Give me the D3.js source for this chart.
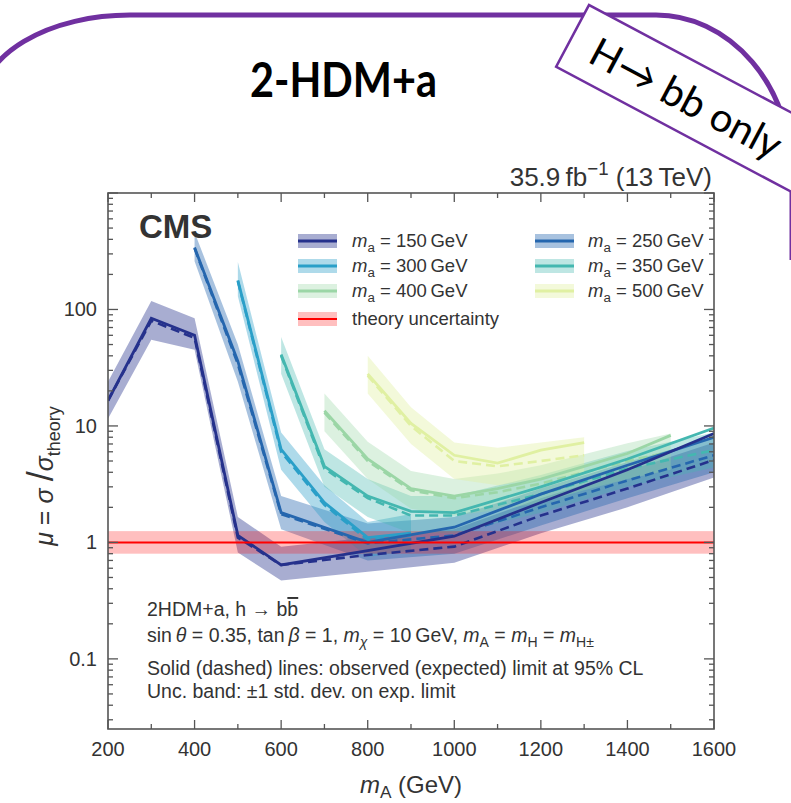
<!DOCTYPE html>
<html>
<head>
<meta charset="utf-8">
<script src="https://cdn.jsdelivr.net/npm/d3@7"></script>
<style>
  body { margin: 0; background: #fff; }
  svg { display: block; }
</style>
</head>
<body>
<script>
// ---- Limits on mu = sigma / sigma_theory, one set of arrays per m_a value ----
// m_a = 150 GeV
const mass150 = [200, 300, 400, 500, 600, 800, 1000, 1200, 1400, 1600];
const obs150  = [16.5, 84, 60, 1.15, 0.64, 0.85, 1.13, 2.2, 4.2, 8.6];
const exp150  = [16.5, 80, 57, 1.1, 0.64, 0.78, 0.92, 1.7, 2.9, 5.1];
const lo150   = [11.5, 55, 45, 0.82, 0.47, 0.56, 0.67, 1.2, 2.0, 3.6];
const hi150   = [24, 118, 84, 1.65, 0.92, 1.1, 1.3, 2.4, 4.1, 7.2];
// m_a = 250 GeV
const mass250 = [400, 500, 600, 800, 1000, 1200, 1400, 1600];
const obs250  = [340, 36, 1.8, 1.0, 1.35, 2.6, 4.6, 8.0];
const exp250  = [335, 34, 1.75, 0.98, 1.15, 2.0, 3.4, 5.6];
const lo250   = [260, 24, 1.3, 0.7, 0.8, 1.4, 2.4, 4.0];
const hi250   = [460, 50, 2.5, 1.45, 1.65, 2.9, 4.9, 8.0];
// m_a = 300 GeV
const mass300 = [500, 600, 700, 800, 900];
const obs300  = [178, 6.3, 2.2, 1.1, 1.2];
const exp300  = [175, 6.0, 2.1, 1.05, 1.15];
const lo300   = [130, 4.2, 1.5, 0.75, 0.85];
const hi300   = [255, 8.8, 3.1, 1.5, 1.75];
// m_a = 350 GeV
const mass350 = [600, 700, 800, 900, 1000, 1200, 1400, 1600];
const obs350  = [41, 4.5, 2.5, 1.85, 1.8, 3.0, 5.2, 9.6];
const exp350  = [40, 4.3, 2.4, 1.7, 1.7, 2.6, 4.3, 6.2];
const lo350   = [28, 3.0, 1.65, 1.2, 1.2, 1.8, 3.0, 4.4];
const hi350   = [58, 6.3, 3.5, 2.5, 2.5, 3.8, 6.1, 8.8];
// m_a = 400 GeV
const mass400 = [700, 800, 900, 1000, 1100, 1200, 1300, 1400, 1500];
const obs400  = [13.5, 5.2, 2.9, 2.5, 2.9, 3.5, 4.5, 5.8, 8.3];
const exp400  = [13, 5.0, 2.8, 2.4, 2.7, 3.2, 4.0, 5.0, 6.0];
const lo400   = [9, 3.5, 1.95, 1.7, 1.9, 2.2, 2.8, 3.5, 4.2];
const hi400   = [19, 7.3, 4.1, 3.5, 3.9, 4.6, 5.7, 7.1, 8.6];
// m_a = 500 GeV
const mass500 = [800, 900, 1000, 1100, 1200, 1300];
const obs500  = [28, 10.5, 5.6, 4.8, 6.2, 7.2];
const exp500  = [27, 10.0, 5.0, 4.5, 5.0, 5.6];
const lo500   = [19, 7, 3.5, 3.1, 3.5, 3.9];
const hi500   = [40, 14.5, 7.2, 6.5, 7.2, 8.0];
// theory reference and its uncertainty
const theoryMu = 1;
const theoryLo = 0.8;
const theoryHi = 1.25;

const xTickValues = [200, 400, 600, 800, 1000, 1200, 1400, 1600];
const xTickLabels = ["200", "400", "600", "800", "1000", "1200", "1400", "1600"];
const yTickValues = [0.1, 1, 10, 100];
const yTickLabels = ["0.1", "1", "10", "100"];

const series = [
  { ma: "150", m: mass150, obs: obs150, exp: exp150, lo: lo150, hi: hi150, color: "#25318c", bandOp: 0.4 },
  { ma: "250", m: mass250, obs: obs250, exp: exp250, lo: lo250, hi: hi250, color: "#2566ae", bandOp: 0.4 },
  { ma: "300", m: mass300, obs: obs300, exp: exp300, lo: lo300, hi: hi300, color: "#2a9fc8", bandOp: 0.38 },
  { ma: "350", m: mass350, obs: obs350, exp: exp350, lo: lo350, hi: hi350, color: "#44b7b0", bandOp: 0.35 },
  { ma: "400", m: mass400, obs: obs400, exp: exp400, lo: lo400, hi: hi400, color: "#9bd6a6", bandOp: 0.35 },
  { ma: "500", m: mass500, obs: obs500, exp: exp500, lo: lo500, hi: hi500, color: "#e0f0a2", bandOp: 0.4 }
];

const W = 791, H = 803;
const plot = { left: 108, right: 714, top: 193, bottom: 729 };
const textCol = "#333";
const plotFont = "'Liberation Sans', Arial, sans-serif";

const svg = d3.select("body").append("svg").attr("width", W).attr("height", H);

const x = d3.scaleLinear().domain([200, 1600]).range([plot.left, plot.right]);
const y = d3.scaleLog().domain([0.025, 1000]).range([plot.bottom, plot.top]);

// rich text helper: parts = [{t, it, sub, sup, size, over}]
function rich(parent, px, py, parts, opt) {
  opt = opt || {};
  const fs = opt.size || 17;
  const subShift = opt.subShift !== undefined ? opt.subShift : 0.28;
  const t = parent.append("text")
    .attr("x", px).attr("y", py)
    .attr("font-family", opt.family || plotFont)
    .attr("font-size", fs)
    .attr("fill", opt.fill || textCol)
    .attr("text-anchor", opt.anchor || "start");
  if (opt.transform) t.attr("transform", opt.transform);
  let cur = 0;
  parts.forEach(p => {
    const target = p.sub ? fs * subShift : (p.sup ? -fs * 0.42 : 0);
    const s = t.append("tspan").text(p.t).attr("dy", target - cur);
    cur = target;
    if (p.it) s.attr("font-style", "italic");
    if (p.sub || p.sup) s.attr("font-size", fs * 0.72);
    if (p.size) s.attr("font-size", p.size);
    if (p.over) s.attr("text-decoration", "overline");
  });
  return t;
}

// ---- header decoration ----
svg.append("path")
  .attr("d", "M -20 105 A 150 90 0 0 1 130 15 L 656 15 A 136 160 0 0 1 792 175 L 792 260")
  .attr("fill", "none").attr("stroke", "#7030a0").attr("stroke-width", 5);

svg.append("text")
  .attr("x", 250).attr("y", 97)
  .attr("font-family", "Lato, 'Open Sans', sans-serif")
  .attr("font-weight", "bold")
  .attr("font-size", 47)
  .attr("textLength", 187)
  .attr("lengthAdjust", "spacingAndGlyphs")
  .attr("fill", "#000")
  .text("2-HDM+a");

const tag = svg.append("g").attr("transform", "translate(589,5) rotate(28)");
tag.append("rect").attr("x", 0).attr("y", 0).attr("width", 300).attr("height", 70)
  .attr("fill", "#fff").attr("stroke", "#7030a0").attr("stroke-width", 2.5);
tag.append("text").attr("x", 24).attr("y", 51)
  .attr("font-family", "Lato, 'Open Sans', sans-serif")
  .attr("font-size", 40).attr("fill", "#000")
  .text("H\u2192 bb only");

// ---- plot area ----
svg.append("clipPath").attr("id", "plotClip")
  .append("rect").attr("x", plot.left).attr("y", plot.top)
  .attr("width", plot.right - plot.left).attr("height", plot.bottom - plot.top);

const gPlot = svg.append("g").attr("clip-path", "url(#plotClip)");

const band = d3.area()
  .x(d => x(d.m)).y0(d => y(d.lo)).y1(d => y(d.hi));
const line = key => d3.line().x(d => x(d.m)).y(d => y(d[key]));

function rows(s) {
  return s.m.map((m, i) => ({ m, obs: s.obs[i], exp: s.exp[i], lo: s.lo[i], hi: s.hi[i] }));
}

// uncertainty bands
series.forEach(s => {
  gPlot.append("path").datum(rows(s))
    .attr("d", band).attr("fill", s.color).attr("fill-opacity", s.bandOp);
});

// theory band
gPlot.append("rect")
  .attr("x", plot.left).attr("width", plot.right - plot.left)
  .attr("y", y(theoryHi)).attr("height", y(theoryLo) - y(theoryHi))
  .attr("fill", "#ff0000").attr("fill-opacity", 0.25);

// expected (dashed) and observed (solid) limits
series.slice().reverse().forEach(s => {
  gPlot.append("path").datum(rows(s))
    .attr("d", line("exp")).attr("fill", "none")
    .attr("stroke", s.color).attr("stroke-width", 2.6).attr("stroke-dasharray", "9,5");
  gPlot.append("path").datum(rows(s))
    .attr("d", line("obs")).attr("fill", "none")
    .attr("stroke", s.color).attr("stroke-width", 2.8);
});

gPlot.append("line")
  .attr("x1", plot.left).attr("x2", plot.right)
  .attr("y1", y(theoryMu)).attr("y2", y(theoryMu))
  .attr("stroke", "#ff0000").attr("stroke-width", 2);

// ---- frame and ticks ----
const frameCol = "#555";
const gAxes = svg.append("g").attr("stroke", frameCol);
gAxes.append("rect")
  .attr("x", plot.left).attr("y", plot.top)
  .attr("width", plot.right - plot.left).attr("height", plot.bottom - plot.top)
  .attr("fill", "none").attr("stroke-width", 1.6);

const xMinor = d3.range(300, 1600, 200);
xTickValues.concat(xMinor).forEach(v => {
  const len = xTickValues.includes(v) ? 9 : 5;
  gAxes.append("line").attr("x1", x(v)).attr("x2", x(v))
    .attr("y1", plot.bottom).attr("y2", plot.bottom - len).attr("stroke-width", 1.3);
  gAxes.append("line").attr("x1", x(v)).attr("x2", x(v))
    .attr("y1", plot.top).attr("y2", plot.top + len).attr("stroke-width", 1.3);
});

const yAll = y.ticks(40).filter(v => v >= 0.025 && v <= 1000);
yAll.forEach(v => {
  const major = yTickValues.includes(v) || v === 1000;
  const len = major ? 10 : 5;
  gAxes.append("line").attr("x1", plot.left).attr("x2", plot.left + len)
    .attr("y1", y(v)).attr("y2", y(v)).attr("stroke-width", 1.3);
  gAxes.append("line").attr("x1", plot.right).attr("x2", plot.right - len)
    .attr("y1", y(v)).attr("y2", y(v)).attr("stroke-width", 1.3);
});

// tick labels
xTickValues.forEach((v, i) => {
  svg.append("text").attr("x", x(v)).attr("y", 756)
    .attr("text-anchor", "middle").attr("font-family", plotFont)
    .attr("font-size", 20).attr("fill", textCol).text(xTickLabels[i]);
});
yTickValues.forEach((v, i) => {
  svg.append("text").attr("x", 97).attr("y", y(v) + 7)
    .attr("text-anchor", "end").attr("font-family", plotFont)
    .attr("font-size", 20).attr("fill", textCol).text(yTickLabels[i]);
});

// axis titles
rich(svg, 411, 793, [{ t: "m", it: true }, { t: "A", sub: true }, { t: " (GeV)" }],
  { size: 24, anchor: "middle", subShift: 0.2 });
rich(svg, 0, 0, [
  { t: "\u03bc", it: true }, { t: " = " }, { t: "\u03c3", it: true },
  { t: "\u2009/", size: 36 }, { t: "\u03c3", it: true }, { t: "theory", sub: true }
], { size: 25, anchor: "middle", transform: "translate(53,476) rotate(-90)" });

// luminosity label and experiment tag
rich(svg, 712, 186, [{ t: "35.9\u2009fb" }, { t: "\u22121", sup: true }, { t: " (13\u2009TeV)" }],
  { size: 26, anchor: "end" });
svg.append("text").attr("x", 139).attr("y", 238)
  .attr("font-family", plotFont).attr("font-weight", "bold")
  .attr("font-size", 33).attr("fill", textCol).text("CMS");

// ---- legend ----
const legendItems = [
  { s: series[0], col: 0, row: 0 },
  { s: series[2], col: 0, row: 1 },
  { s: series[4], col: 0, row: 2 },
  { s: series[1], col: 1, row: 0 },
  { s: series[3], col: 1, row: 1 },
  { s: series[5], col: 1, row: 2 }
];
const legX = [298, 535], legTextX = [352, 588], legY = [241, 266, 291, 319];
legendItems.forEach(it => {
  const cy = legY[it.row], x0 = legX[it.col];
  svg.append("rect").attr("x", x0).attr("y", cy - 7).attr("width", 39).attr("height", 14)
    .attr("fill", it.s.color).attr("fill-opacity", it.s.bandOp);
  svg.append("line").attr("x1", x0).attr("x2", x0 + 39).attr("y1", cy).attr("y2", cy)
    .attr("stroke", it.s.color).attr("stroke-width", 3);
  rich(svg, legTextX[it.col], cy + 6,
    [{ t: "m", it: true }, { t: "a", sub: true }, { t: " = " + it.s.ma + "\u2009GeV" }], { size: 18.5 });
});
// theory entry
svg.append("rect").attr("x", legX[0]).attr("y", legY[3] - 7).attr("width", 39).attr("height", 14)
  .attr("fill", "#ff0000").attr("fill-opacity", 0.25);
svg.append("line").attr("x1", legX[0]).attr("x2", legX[0] + 39).attr("y1", legY[3]).attr("y2", legY[3])
  .attr("stroke", "#ff0000").attr("stroke-width", 2);
rich(svg, legTextX[0], legY[3] + 6, [{ t: "theory uncertainty" }], { size: 18.5 });

// ---- model description ----
const noteSize = 19.5;
rich(svg, 147, 616, [{ t: "2HDM+a, h \u2192 b" }, { t: "b", over: true }], { size: noteSize });
rich(svg, 147, 642, [
  { t: "sin\u2009" }, { t: "\u03b8", it: true }, { t: " = 0.35, tan\u2009" }, { t: "\u03b2", it: true },
  { t: " = 1, " }, { t: "m", it: true }, { t: "\u03c7", sub: true, it: true }, { t: " = 10\u2009GeV, " },
  { t: "m", it: true }, { t: "A", sub: true }, { t: " = " },
  { t: "m", it: true }, { t: "H", sub: true }, { t: " = " },
  { t: "m", it: true }, { t: "H\u00b1", sub: true }
], { size: noteSize });
rich(svg, 147, 675, [{ t: "Solid (dashed) lines: observed (expected) limit at 95% CL" }], { size: noteSize });
rich(svg, 147, 698, [{ t: "Unc. band: \u00b11 std. dev. on exp. limit" }], { size: noteSize });
</script>
</body>
</html>
